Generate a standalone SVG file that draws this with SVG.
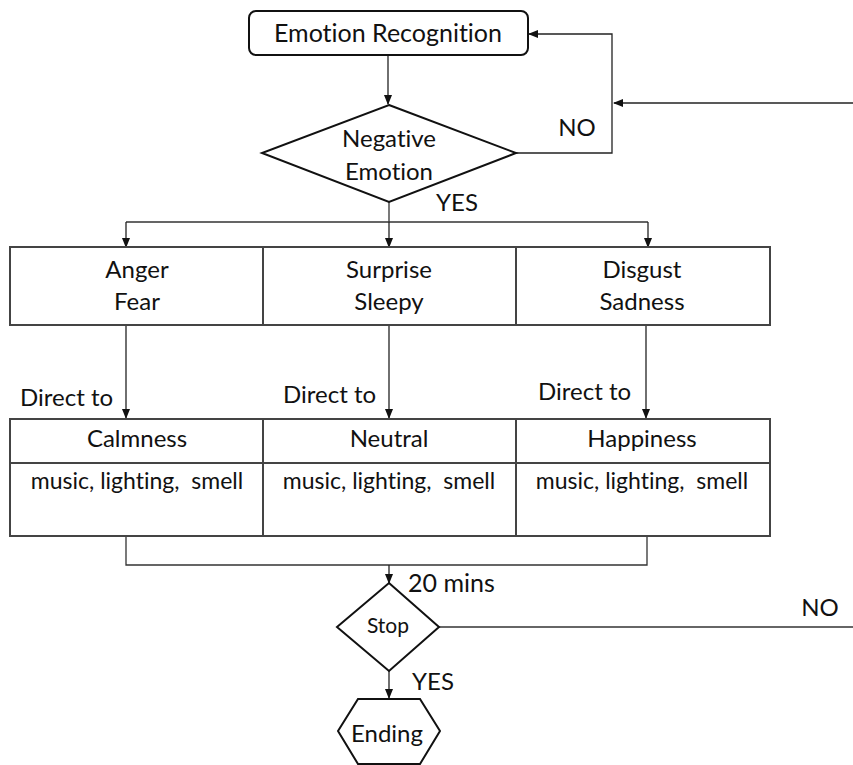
<svg xmlns="http://www.w3.org/2000/svg" width="853" height="765" viewBox="0 0 853 765">
<defs>
<marker id="ah" markerWidth="10" markerHeight="8" refX="9" refY="4" orient="auto" markerUnits="userSpaceOnUse">
<path d="M0,0 L10,4 L0,8 Z" fill="#111"/>
</marker>
<style>
text{font-family:Lato,"Liberation Sans",Arial,sans-serif;font-size:24px;fill:#111;text-anchor:middle;white-space:pre;font-variant-ligatures:none;font-feature-settings:"liga" 0}
.l{text-anchor:start}
.m{font-size:23px}
.shape{fill:#fff;stroke:#111;stroke-width:2}
.box{fill:#fff;stroke:#444;stroke-width:2}
.c{fill:none;stroke:#333;stroke-width:1.3}
.ca{fill:none;stroke:#222;stroke-width:1.3;marker-end:url(#ah)}
</style>
</defs>
<rect width="853" height="765" fill="#fff"/>
<g id="connectors">
<path class="ca" d="M388,56 V104"/>
<path class="ca" d="M516,153 H612 V34 H529"/>
<path class="ca" d="M853,103 H614"/>
<path class="c" d="M389,202 V222 M126,222 H648"/>
<path class="ca" d="M126,222 V247"/>
<path class="ca" d="M389,222 V247"/>
<path class="ca" d="M648,222 V247"/>
<path class="ca" d="M126,326 V418"/>
<path class="ca" d="M389,326 V418"/>
<path class="ca" d="M646,326 V418"/>
<path class="c" d="M126,537 V565 H647 V537"/>
<path class="ca" d="M389,565 V583"/>
<path class="c" d="M439,627 H853"/>
<path class="ca" d="M389,671 V698"/>
<text x="577" y="136">NO</text>
<text x="457" y="211">YES</text>
<text class="l" x="20" y="406">Direct to</text>
<text class="l" x="283" y="403">Direct to</text>
<text class="l" x="538" y="400">Direct to</text>
<text class="l" x="408" y="592" style="font-size:25px">20 mins</text>
<text x="820" y="616">NO</text>
<text x="433" y="690">YES</text>
</g>
<g id="emotion-recognition">
<rect class="shape" x="249" y="11" width="279" height="44" rx="7"/>
<text x="388" y="42" style="font-size:25px">Emotion Recognition</text>
</g>
<g id="negative-emotion">
<polygon class="shape" points="389,105 516,153 389,202 262,153"/>
<text x="389" y="147">Negative</text>
<text x="389" y="180">Emotion</text>
</g>
<g id="anger-fear">
<rect class="box" x="10" y="247" width="253" height="78"/>
<text x="137" y="278">Anger</text>
<text x="137" y="310">Fear</text>
</g>
<g id="surprise-sleepy">
<rect class="box" x="263" y="247" width="253" height="78"/>
<text x="389" y="278">Surprise</text>
<text x="389" y="310">Sleepy</text>
</g>
<g id="disgust-sadness">
<rect class="box" x="516" y="247" width="254" height="78"/>
<text x="642" y="278">Disgust</text>
<text x="642" y="310">Sadness</text>
</g>
<g id="calmness">
<rect class="box" x="10" y="419" width="253" height="117"/>
<line class="box" x1="10" y1="463" x2="263" y2="463"/>
<text x="137" y="447">Calmness</text>
<text class="m" x="137" y="489">music, lighting,  smell</text>
</g>
<g id="neutral">
<rect class="box" x="263" y="419" width="253" height="117"/>
<line class="box" x1="263" y1="463" x2="516" y2="463"/>
<text x="389" y="447">Neutral</text>
<text class="m" x="389" y="489">music, lighting,  smell</text>
</g>
<g id="happiness">
<rect class="box" x="516" y="419" width="254" height="117"/>
<line class="box" x1="516" y1="463" x2="770" y2="463"/>
<text x="642" y="447">Happiness</text>
<text class="m" x="642" y="489">music, lighting,  smell</text>
</g>
<g id="stop">
<polygon class="shape" points="389,583 439,627 389,671 337,627"/>
<text x="388" y="633" style="font-size:21px">Stop</text>
</g>
<g id="ending">
<polygon class="shape" points="358,699 420,699 440,731 420,764 358,764 338,731"/>
<text x="387" y="742">Ending</text>
</g>
</svg>
